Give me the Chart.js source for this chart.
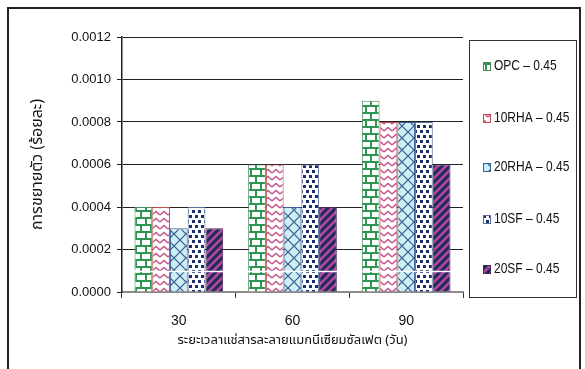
<!DOCTYPE html>
<html>
<head>
<meta charset="utf-8">
<script src="https://cdn.jsdelivr.net/npm/chart.js@4.4.1/dist/chart.umd.min.js"></script>
<style>
  html, body { margin: 0; padding: 0; background: #fff; }
  #c { display: block; }
</style>
</head>
<body>
<canvas id="c" width="585" height="369"></canvas>
<script>
// Soaking time in magnesium sulfate solution (days)
const categories = ['30', '60', '90'];
const seriesNames = ['OPC \u2013 0.45', '10RHA \u2013 0.45', '20RHA \u2013 0.45', '10SF \u2013 0.45', '20SF \u2013 0.45'];
// Expansion (%)
const opc   = [0.0004, 0.0006, 0.0009];
const rha10 = [0.0004, 0.0006, 0.0008];
const rha20 = [0.0003, 0.0004, 0.0008];
const sf10  = [0.0004, 0.0006, 0.0008];
const sf20  = [0.0003, 0.0004, 0.0006];
const yTicks = [0, 0.0002, 0.0004, 0.0006, 0.0008, 0.0010, 0.0012];

const canvas = document.getElementById('c');
const mainCtx = canvas.getContext('2d');
const SANS = "'Liberation Sans', Arial, sans-serif";
const THAI = "'Noto Sans Thai', 'Noto Sans', 'DejaVu Sans', sans-serif";

function makePattern(w, h, draw) {
  const c = document.createElement('canvas');
  c.width = w; c.height = h;
  const g = c.getContext('2d');
  draw(g, w, h);
  return mainCtx.createPattern(c, 'repeat');
}

// green brick wall
const brick = makePattern(10, 14, (g, w, h) => {
  g.fillStyle = '#fff'; g.fillRect(0, 0, w, h);
  g.strokeStyle = '#2e9652'; g.lineWidth = 2;
  g.beginPath();
  g.moveTo(0, 1); g.lineTo(w, 1);
  g.moveTo(0, 8); g.lineTo(w, 8);
  g.moveTo(1, 1); g.lineTo(1, 8);
  g.moveTo(6, 8); g.lineTo(6, 15);
  g.moveTo(6, -1); g.lineTo(6, 1);
  g.stroke();
});

// pink zigzag
const zigzag = makePattern(8, 7, (g, w, h) => {
  g.fillStyle = '#fff'; g.fillRect(0, 0, w, h);
  g.strokeStyle = '#c4548e'; g.lineWidth = 1.5;
  g.beginPath();
  g.moveTo(0, 5); g.lineTo(4, 1.5); g.lineTo(8, 5);
  g.stroke();
});

// light cyan lattice
const lattice = makePattern(12, 12, (g, w, h) => {
  g.fillStyle = '#cdeef4'; g.fillRect(0, 0, w, h);
  g.strokeStyle = '#36598f'; g.lineWidth = 1.2;
  g.beginPath();
  g.moveTo(0, 0); g.lineTo(w, h);
  g.moveTo(0, h); g.lineTo(w, 0);
  g.stroke();
});

// navy squares on white
const dots = makePattern(6, 10, (g, w, h) => {
  g.fillStyle = '#fff'; g.fillRect(0, 0, w, h);
  g.fillStyle = '#1b2d6a';
  g.fillRect(0, 0, 3, 3);
  g.fillRect(3, 5, 3, 3);
});

// magenta with navy diagonal stripes
const stripes = makePattern(8, 8, (g, w, h) => {
  g.fillStyle = '#b2449c'; g.fillRect(0, 0, w, h);
  g.strokeStyle = '#1d2a5c'; g.lineWidth = 3;
  g.beginPath();
  g.moveTo(-4, 4); g.lineTo(4, -4);
  g.moveTo(0, 8); g.lineTo(8, 0);
  g.moveTo(4, 12); g.lineTo(12, 4);
  g.stroke();
});

const fills = [brick, zigzag, lattice, dots, stripes];
const borders = ['#4a8a5c', '#c0504d', '#3d5f96', '#5a6f9c', '#4a2a55'];
const values = [opc, rha10, rha20, sf10, sf20];

// outer frame around the whole figure
const framePlugin = {
  id: 'frame',
  beforeDraw(chart) {
    const ctx = chart.ctx;
    ctx.save();
    ctx.fillStyle = '#fff';
    ctx.fillRect(0, 0, chart.width, chart.height);
    ctx.strokeStyle = '#222';
    ctx.lineWidth = 2;
    ctx.beginPath();
    ctx.moveTo(8, chart.height + 2);
    ctx.lineTo(8, 8);
    ctx.lineTo(580, 8);
    ctx.lineTo(580, chart.height + 2);
    ctx.stroke();
    ctx.restore();
  }
};

// thin white rule across the bars near the base
const baseRulePlugin = {
  id: 'baseRule',
  afterDatasetsDraw(chart) {
    const { ctx, chartArea, scales } = chart;
    const y = Math.round(scales.y.getPixelForValue(0.0001)) + 0.5;
    ctx.save();
    ctx.strokeStyle = '#fff';
    ctx.lineWidth = 1.5;
    ctx.beginPath();
    ctx.moveTo(chartArea.left + 2, y);
    ctx.lineTo(chartArea.right, y);
    ctx.stroke();
    ctx.restore();
  }
};

// boxed legend on the right side, with condensed labels
const boxLegendPlugin = {
  id: 'boxLegend',
  afterDraw(chart) {
    const ctx = chart.ctx;
    const box = { x: 469.5, y: 40.5, w: 107, h: 257 };
    ctx.save();
    ctx.strokeStyle = '#333';
    ctx.lineWidth = 1;
    ctx.strokeRect(box.x, box.y, box.w, box.h);
    const rows = [66, 118, 167, 219, 269];
    ctx.font = '15px ' + SANS;
    ctx.textBaseline = 'middle';
    ctx.textAlign = 'left';
    chart.data.datasets.forEach((ds, i) => {
      const cy = rows[i];
      ctx.fillStyle = ds.backgroundColor;
      ctx.fillRect(483, cy - 4, 7, 8);
      ctx.strokeStyle = ds.borderColor;
      ctx.lineWidth = 1;
      ctx.strokeRect(483.5, cy - 3.5, 7, 8);
      ctx.fillStyle = '#111';
      const w = ctx.measureText(ds.label).width;
      ctx.fillText(ds.label, 494, cy, w * 0.8);
    });
    ctx.restore();
  }
};

new Chart(canvas, {
  type: 'bar',
  data: {
    labels: categories,
    datasets: seriesNames.map((name, i) => ({
      label: name,
      data: values[i],
      backgroundColor: fills[i],
      borderColor: borders[i],
      borderWidth: 1,
      categoryPercentage: 0.78,
      barPercentage: 1.0
    }))
  },
  options: {
    responsive: false,
    animation: false,
    events: [],
    layout: { padding: { left: 8, right: 122, top: 37, bottom: 0 } },
    plugins: {
      legend: { display: false },
      tooltip: { enabled: false }
    },
    scales: {
      x: {
        afterFit(scale) { scale.height = 77; },
        grid: {
          display: true,
          drawOnChartArea: false,
          drawTicks: true,
          tickLength: 6,
          tickColor: '#333',
          offset: true
        },
        border: { display: true, color: '#8a8a8a', width: 2 },
        ticks: { font: { size: 14, family: SANS }, color: '#111', padding: 15 },
        title: {
          display: true,
          text: 'ระยะเวลาแช่สารละลายแมกนีเซียมซัลเฟต (วัน)',
          font: { size: 13, family: THAI },
          color: '#111',
          padding: { top: 0, bottom: 20 }
        }
      },
      y: {
        min: 0,
        max: 0.0012,
        afterFit(scale) { scale.width = 114; },
        afterBuildTicks(scale) { scale.ticks = yTicks.map(v => ({ value: v })); },
        grid: { color: '#222', lineWidth: 1, tickLength: 5, tickColor: '#222' },
        border: { display: true, color: '#222', width: 1.5 },
        ticks: {
          font: { size: 13, family: SANS },
          color: '#111',
          padding: 6,
          callback: v => Number(v).toFixed(4)
        },
        title: {
          display: true,
          text: 'การขยายตัว (ร้อยละ)',
          font: { size: 16, family: THAI },
          color: '#111',
          padding: { top: 21, bottom: 0 }
        }
      }
    }
  },
  plugins: [framePlugin, baseRulePlugin, boxLegendPlugin]
});
</script>
</body>
</html>
